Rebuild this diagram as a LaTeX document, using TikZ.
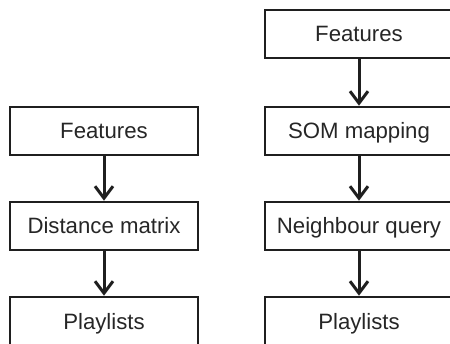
\documentclass[tikz,border=0pt]{standalone}
\usepackage{fontspec}
\setmainfont{Liberation Sans}
\usetikzlibrary{arrows.meta}
\begin{document}
\begin{tikzpicture}[x=1pt,y=1pt,
  stepbox/.style={draw=black!88, line width=2.6pt, minimum width=188pt,
    minimum height=48pt, inner sep=0pt, text height=16pt, text depth=0pt,
    font=\fontsize{22.2}{25}\selectfont, text=black!85},
  flow/.style={draw=black!88, line width=3pt,
    -{Straight Barb[length=12pt,width=18pt,line width=3pt]}}]
\useasboundingbox (0,0) rectangle (450,343);
\clip (0,0) rectangle (450,343);
% left pipeline
\node[stepbox] (lf) at (104,212) {Features};
\node[stepbox] (ld) at (104,117) {Distance matrix};
\node[stepbox] (lp) at (104,22)  {Playlists};
% right pipeline
\node[stepbox] (rf) at (359,309) {Features};
\node[stepbox] (rs) at (359,212) {SOM mapping};
\node[stepbox] (rn) at (359,117) {Neighbour query};
\node[stepbox] (rp) at (359,22)  {Playlists};
\draw[flow] (lf.south) -- (ld.north);
\draw[flow] (ld.south) -- (lp.north);
\draw[flow] (rf.south) -- (rs.north);
\draw[flow] (rs.south) -- (rn.north);
\draw[flow] (rn.south) -- (rp.north);
\end{tikzpicture}
\end{document}
